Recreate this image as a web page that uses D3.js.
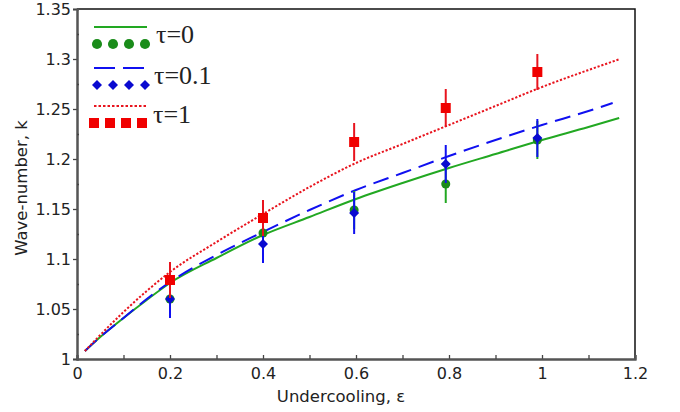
<!DOCTYPE html>
<html><head><meta charset="utf-8">
<script src="https://cdn.jsdelivr.net/npm/d3@7"></script>
<style>
html,body{margin:0;padding:0;background:#fff;}
svg{display:block;}
</style></head>
<body>
<script>
// ---- data ----
const epsPts   = [0.2, 0.4, 0.596, 0.793, 0.99];
const k0Pts    = [1.060, 1.126, 1.149, 1.175, 1.219];
const k01Pts   = [1.060, 1.115, 1.146, 1.195, 1.221];
const k1Pts    = [1.079, 1.141, 1.217, 1.251, 1.287];
const err0     = [0.019, 0.019, 0.019, 0.019, 0.019];
const err01    = [0.019, 0.019, 0.021, 0.019, 0.019];
const err1     = [0.018, 0.018, 0.019, 0.019, 0.018];

const epsCurve0  = [0.017, 0.05, 0.1, 0.15, 0.2, 0.3, 0.4, 0.5, 0.6, 0.7, 0.8, 0.9, 1.0, 1.1, 1.166];
const kCurve0    = [1.008, 1.022, 1.041, 1.059, 1.076, 1.101, 1.124, 1.142, 1.160, 1.176, 1.191, 1.205, 1.219, 1.232, 1.241];
const epsCurve01 = [0.017, 0.05, 0.1, 0.15, 0.2, 0.3, 0.4, 0.5, 0.6, 0.7, 0.8, 0.9, 1.0, 1.1, 1.152];
const kCurve01   = [1.008, 1.022, 1.041, 1.060, 1.077, 1.104, 1.127, 1.149, 1.169, 1.186, 1.203, 1.219, 1.234, 1.248, 1.256];
const epsCurve1  = [0.017, 0.05, 0.1, 0.15, 0.2, 0.3, 0.4, 0.5, 0.6, 0.7, 0.8, 0.9, 1.0, 1.1, 1.168];
const kCurve1    = [1.008, 1.024, 1.047, 1.068, 1.087, 1.117, 1.145, 1.172, 1.196, 1.215, 1.234, 1.253, 1.272, 1.289, 1.300];

const xTicks = [0, 0.2, 0.4, 0.6, 0.8, 1, 1.2];
const xMinor = [0.1, 0.3, 0.5, 0.7, 0.9, 1.1];
const yTicks = [1, 1.05, 1.1, 1.15, 1.2, 1.25, 1.3, 1.35];
const yMinor = [1.025, 1.075, 1.125, 1.175, 1.225, 1.275, 1.325];
const legendLabels = ["τ=0", "τ=0.1", "τ=1"];

// ---- chart ----
const W = 680, H = 412;
const svg = d3.select("body").append("svg").attr("width", W).attr("height", H);
const x = d3.scaleLinear().domain([0, 1.2]).range([77, 635]);
const y = d3.scaleLinear().domain([1, 1.35]).range([359, 9]);

const cGreenLine = "#22a822", cGreenMark = "#1a8c1a";
const cBlue = "#1010f0", cBlueMark = "#0a0ad0";
const cRed = "#e8141e", cRedMark = "#f00000";
const tickFont = "'DejaVu Sans', Verdana, sans-serif";

// frame top/right
svg.append("path")
  .attr("d", `M${x(0)},${y(1.35)}H${x(1.2)}V${y(1)}`)
  .attr("fill", "none").attr("stroke", "#111").attr("stroke-width", 1.5);

// axes
const gx = svg.append("g").attr("transform", `translate(0,${y(1)})`)
  .call(d3.axisBottom(x).tickValues(xTicks).tickSize(-4).tickPadding(9)
    .tickFormat(d => d3.format("")(d)));
const gxm = svg.append("g").attr("transform", `translate(0,${y(1)})`)
  .call(d3.axisBottom(x).tickValues(xMinor).tickSize(-4).tickFormat(""));
const gy = svg.append("g").attr("transform", `translate(${x(0)},0)`)
  .call(d3.axisLeft(y).tickValues(yTicks).tickSize(4).tickPadding(2)
    .tickFormat(d => d3.format("")(d)));
const gym = svg.append("g").attr("transform", `translate(${x(0)},0)`)
  .call(d3.axisLeft(y).tickValues(yMinor).tickSize(-2).tickFormat(""));
[gx, gxm, gy, gym].forEach(g => {
  g.select(".domain").attr("stroke", "#555").attr("stroke-width", 2);
  g.selectAll(".tick line").attr("stroke", "#444").attr("stroke-width", 1.3);
  g.selectAll(".tick text").attr("font-family", tickFont).attr("font-size", 16).attr("fill", "#222");
});
gx.selectAll(".tick text").attr("dy", "0.71em");

// axis labels
svg.append("text").attr("x", 341).attr("y", 402).attr("text-anchor", "middle")
  .attr("font-family", tickFont).attr("font-size", 16.5).attr("fill", "#222")
  .text("Undercooling, ε");
svg.append("text").attr("transform", "translate(27,188) rotate(-90)").attr("text-anchor", "middle")
  .attr("font-family", tickFont).attr("font-size", 16.5).attr("fill", "#222")
  .text("Wave-number, k");

// curves
const line = d3.line().x(d => x(d[0])).y(d => y(d[1])).curve(d3.curveMonotoneX);
const zip = (a, b) => a.map((v, i) => [v, b[i]]);
svg.append("path").datum(zip(epsCurve0, kCurve0)).attr("d", line)
  .attr("fill", "none").attr("stroke", cGreenLine).attr("stroke-width", 2);
svg.append("path").datum(zip(epsCurve01, kCurve01)).attr("d", line)
  .attr("fill", "none").attr("stroke", cBlue).attr("stroke-width", 2).attr("stroke-dasharray", "16,8");
svg.append("path").datum(zip(epsCurve1, kCurve1)).attr("d", line)
  .attr("fill", "none").attr("stroke", cRed).attr("stroke-width", 2).attr("stroke-dasharray", "2.2,1.8");

// markers
const sym = {
  circle: d3.symbol().type(d3.symbolCircle).size(64),
  circleL: d3.symbol().type(d3.symbolCircle).size(80),
  diamond: d3.symbol().type(d3.symbolSquare).size(50),
  square: d3.symbol().type(d3.symbolSquare).size(100)
};
function series(ks, errs, colLine, colMark, kind) {
  const g = svg.append("g");
  const pts = epsPts.map((e, i) => ({e, k: ks[i], err: errs[i]}));
  g.selectAll("line").data(pts).join("line")
    .attr("x1", d => x(d.e)).attr("x2", d => x(d.e))
    .attr("y1", d => y(d.k - d.err)).attr("y2", d => y(d.k + d.err))
    .attr("stroke", colLine).attr("stroke-width", 2);
  g.selectAll("path").data(pts).join("path")
    .attr("d", sym[kind])
    .attr("transform", d => `translate(${x(d.e)},${y(d.k)})` + (kind === "diamond" ? " rotate(45)" : ""))
    .attr("fill", colMark);
}
series(k0Pts, err0, cGreenLine, cGreenMark, "circle");
series(k01Pts, err01, cBlue, cBlueMark, "diamond");
series(k1Pts, err1, cRed, cRedMark, "square");

// legend
const leg = svg.append("g");
const legRows = [
  {label: legendLabels[0], ly: 27, my: 44, ty: 43, tx: 156, stroke: cGreenLine, dash: null, mark: "circleL", col: cGreenMark},
  {label: legendLabels[1], ly: 68, my: 85, ty: 84, tx: 154, stroke: cBlue, dash: "21,8", mark: "diamond", col: cBlueMark},
  {label: legendLabels[2], ly: 106, my: 123, ty: 123, tx: 153, stroke: cRed, dash: "2.5,2", mark: "square", col: cRedMark}
];
const legMarkX = [97, 113, 129, 145];
legRows.forEach(r => {
  leg.append("line").attr("x1", 94).attr("x2", 147).attr("y1", r.ly).attr("y2", r.ly)
    .attr("stroke", r.stroke).attr("stroke-width", 2).attr("stroke-dasharray", r.dash);
  legMarkX.forEach(mx => {
    leg.append("path").attr("d", sym[r.mark])
      .attr("transform", `translate(${r.mark === "square" ? mx - 3 : mx},${r.my})` + (r.mark === "diamond" ? " rotate(45)" : ""))
      .attr("fill", r.col);
  });
  leg.append("text").attr("x", r.tx).attr("y", r.ty)
    .attr("font-family", "'Liberation Serif', 'Times New Roman', serif").attr("font-size", 26).attr("fill", "#222")
    .text(r.label);
});
</script>
</body></html>
